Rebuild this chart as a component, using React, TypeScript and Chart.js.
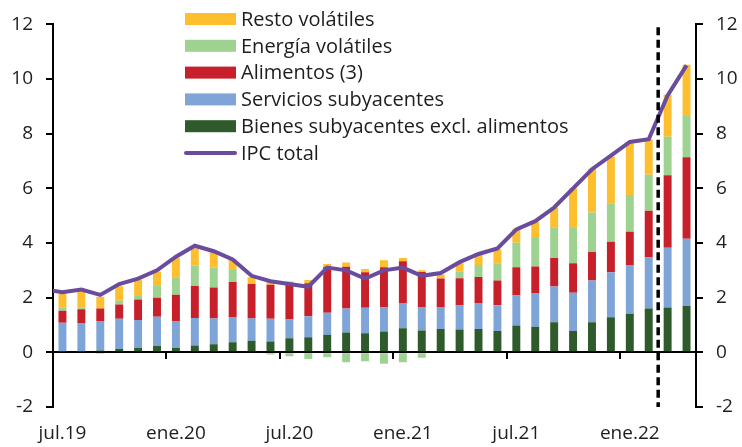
import React, { useEffect, useRef } from 'react';
import { Chart, registerables } from 'chart.js';

Chart.register(...registerables);

// Categories (first one is only used so the IPC line enters from the left edge)
const labels = [
  'jun.19', 'jul.19', 'ago.19', 'sep.19', 'oct.19', 'nov.19', 'dic.19',
  'ene.20', 'feb.20', 'mar.20', 'abr.20', 'may.20', 'jun.20',
  'jul.20', 'ago.20', 'sep.20', 'oct.20', 'nov.20', 'dic.20',
  'ene.21', 'feb.21', 'mar.21', 'abr.21', 'may.21', 'jun.21',
  'jul.21', 'ago.21', 'sep.21', 'oct.21', 'nov.21', 'dic.21',
  'ene.22', 'feb.22', 'mar.22', 'abr.22',
];

const bienes = [null, 0.0, 0.0, 0.07, 0.12, 0.16, 0.23, 0.16, 0.25, 0.30, 0.37, 0.42, 0.40, 0.52, 0.55, 0.64, 0.73, 0.70, 0.76, 0.88, 0.80, 0.85, 0.84, 0.85, 0.78, 0.98, 0.94, 1.10, 0.78, 1.10, 1.28, 1.41, 1.60, 1.64, 1.70];
const servicios = [null, 1.08, 1.07, 1.08, 1.11, 1.02, 1.07, 0.99, 1.01, 0.94, 0.92, 0.82, 0.83, 0.68, 0.77, 0.81, 0.87, 0.93, 0.88, 0.93, 0.86, 0.81, 0.87, 0.96, 0.94, 1.10, 1.23, 1.31, 1.40, 1.53, 1.65, 1.79, 1.87, 2.19, 2.46];
const alimentos = [null, 0.44, 0.51, 0.45, 0.52, 0.75, 0.70, 0.96, 1.17, 1.13, 1.28, 1.26, 1.24, 1.33, 1.21, 1.68, 1.53, 1.30, 1.47, 1.52, 1.28, 1.04, 1.00, 0.95, 0.91, 1.03, 0.97, 1.04, 1.08, 1.04, 1.12, 1.21, 1.71, 2.65, 2.98];
const energia = [null, 0.13, 0.07, -0.05, 0.14, 0.13, 0.43, 0.64, 0.74, 0.73, 0.44, 0, -0.08, -0.14, -0.24, -0.18, -0.36, -0.33, -0.42, -0.36, -0.20, 0, 0.24, 0.44, 0.63, 0.90, 1.08, 1.13, 1.29, 1.45, 1.41, 1.35, 1.32, 1.41, 1.51];
const resto = [null, 0.49, 0.58, 0.43, 0.53, 0.60, 0.53, 0.70, 0.64, 0.55, 0.40, 0.25, 0.18, 0.06, 0.12, 0.10, 0.16, 0.12, 0.26, 0.12, 0.06, 0.15, 0.31, 0.43, 0.51, 0.51, 0.55, 0.72, 1.45, 1.60, 1.71, 1.88, 1.30, 1.54, 1.87];
const ipc = [2.3, 2.2, 2.3, 2.1, 2.5, 2.7, 3.0, 3.5, 3.9, 3.7, 3.4, 2.8, 2.6, 2.5, 2.4, 3.1, 3.0, 2.7, 3.0, 3.1, 2.8, 2.9, 3.3, 3.6, 3.8, 4.5, 4.8, 5.3, 6.0, 6.7, 7.2, 7.7, 7.8, 9.4, 10.5];

const yTicks = [-2, 0, 2, 4, 6, 8, 10, 12];
const firstLabel = 'jul.19';
const dashAfter = 'feb.22';
const dashBefore = 'mar.22';

const FONT = '"Open Sans", "DejaVu Sans", sans-serif';
const TEXT = '#1e1e1e';

const isMarked = (lab: string) => lab.startsWith('jul') || lab.startsWith('ene');

const legendPlugin = {
  id: 'customLegend',
  afterDraw(chart: any) {
    const ctx = chart.ctx;
    const ds = chart.data.datasets;
    const bars = ds.filter((d: any) => d.type === 'bar').slice().reverse();
    const lines = ds.filter((d: any) => d.type === 'line');
    const items = [...bars, ...lines];
    const x0 = 185;
    const y0 = 19;
    const step = 26.8;
    ctx.save();
    ctx.font = `20px ${FONT}`;
    ctx.textBaseline = 'middle';
    ctx.textAlign = 'left';
    items.forEach((d: any, i: number) => {
      const cy = y0 + i * step;
      if (d.type === 'bar') {
        ctx.fillStyle = d.backgroundColor;
        ctx.fillRect(x0, cy - 6, 51, 12);
      } else {
        ctx.strokeStyle = d.borderColor;
        ctx.lineWidth = 4;
        ctx.lineCap = 'round';
        ctx.beginPath();
        ctx.moveTo(x0 + 1, cy);
        ctx.lineTo(x0 + 50, cy);
        ctx.stroke();
      }
      ctx.fillStyle = TEXT;
      ctx.fillText(d.label, x0 + 56, cy + 1);
    });
    ctx.restore();
  },
};

const dashPlugin = {
  id: 'dashLine',
  afterDatasetsDraw(chart: any) {
    const xs = chart.scales.x;
    const ys = chart.scales.y;
    const a = labels.indexOf(dashAfter);
    const b = labels.indexOf(dashBefore);
    const x = (xs.getPixelForValue(a) + xs.getPixelForValue(b)) / 2;
    const ctx = chart.ctx;
    ctx.save();
    ctx.strokeStyle = '#000';
    ctx.lineWidth = 3.5;
    ctx.setLineDash([8, 4.5]);
    ctx.beginPath();
    ctx.moveTo(x, ys.getPixelForValue(11.9));
    ctx.lineTo(x, ys.getPixelForValue(-2));
    ctx.stroke();
    ctx.restore();
  },
};

export default function App() {
  const ref = useRef<HTMLCanvasElement | null>(null);

  useEffect(() => {
    if (!ref.current) return;
    const barCommon = {
      type: 'bar' as const,
      stack: 'comp',
      yAxisID: 'y',
      xAxisID: 'x',
      borderWidth: 0,
      categoryPercentage: 1,
      barPercentage: 0.42,
    };
    const tickFont = { family: FONT, size: 19 };
    const chart = new Chart(ref.current, {
      type: 'bar',
      data: {
        labels,
        datasets: [
          {
            type: 'line',
            label: 'IPC total',
            data: ipc,
            borderColor: '#6A4C9E',
            backgroundColor: '#6A4C9E',
            borderWidth: 4,
            pointRadius: 0,
            tension: 0,
            yAxisID: 'y2',
            xAxisID: 'x',
            stack: 'ipc',
            order: -1,
          } as any,
          { ...barCommon, label: 'Bienes subyacentes excl. alimentos', data: bienes, backgroundColor: '#2F5A2B' },
          { ...barCommon, label: 'Servicios subyacentes', data: servicios, backgroundColor: '#7FA5D8' },
          { ...barCommon, label: 'Alimentos (3)', data: alimentos, backgroundColor: '#C7202A' },
          { ...barCommon, label: 'Energía volátiles', data: energia, backgroundColor: '#9DD291' },
          { ...barCommon, label: 'Resto volátiles', data: resto, backgroundColor: '#FDBF2D' },
        ],
      },
      options: {
        responsive: false,
        animation: false,
        devicePixelRatio: 1,
        layout: { padding: { top: 19, left: 0, right: 0, bottom: 0 } },
        plugins: { legend: { display: false }, tooltip: { enabled: false } },
        scales: {
          x: {
            type: 'category',
            min: firstLabel,
            offset: true,
            stacked: true,
            position: { y: 0 } as any,
            ticks: { display: false, autoSkip: false },
            grid: {
              offset: true,
              drawOnChartArea: false,
              drawTicks: true,
              tickLength: 6,
              lineWidth: 2,
              color: (c: any) => (c.tick && isMarked(labels[c.tick.value]) ? '#000' : 'rgba(0,0,0,0)'),
            },
            border: { display: true, color: '#000', width: 2 },
          },
          xb: {
            type: 'category',
            min: firstLabel,
            offset: true,
            position: 'bottom',
            grid: { display: false, drawTicks: false },
            border: { display: false },
            ticks: {
              autoSkip: false,
              maxRotation: 0,
              padding: 15,
              color: TEXT,
              font: tickFont,
              callback: (v: any) => (isMarked(labels[v]) ? labels[v] : ''),
            },
            afterFit: (s: any) => { s.height = 40; },
          },
          y: {
            position: 'left',
            min: yTicks[0],
            max: yTicks[yTicks.length - 1],
            stacked: true,
            afterBuildTicks: (s: any) => { s.ticks = yTicks.map((v) => ({ value: v })); },
            ticks: { padding: 13, color: TEXT, font: tickFont },
            grid: { drawOnChartArea: false, drawTicks: true, tickLength: 7, lineWidth: 2, color: '#000' },
            border: { display: true, color: '#000', width: 2 },
            afterFit: (s: any) => { s.width = 53; },
          },
          y2: {
            position: 'right',
            min: yTicks[0],
            max: yTicks[yTicks.length - 1],
            afterBuildTicks: (s: any) => { s.ticks = yTicks.map((v) => ({ value: v })); },
            ticks: { padding: 13, color: TEXT, font: tickFont },
            grid: { drawOnChartArea: false, drawTicks: true, tickLength: 7, lineWidth: 2, color: '#000' },
            border: { display: true, color: '#000', width: 2 },
            afterFit: (s: any) => { s.width = 46; },
          },
        },
      },
      plugins: [dashPlugin, legendPlugin],
    } as any);
    return () => chart.destroy();
  }, []);

  return (
    <div style={{ position: 'fixed', left: 0, top: 0, width: 742, height: 447, background: '#fff' }}>
      <canvas ref={ref} width={742} height={447} style={{ width: 742, height: 447, display: 'block' }} />
    </div>
  );
}
